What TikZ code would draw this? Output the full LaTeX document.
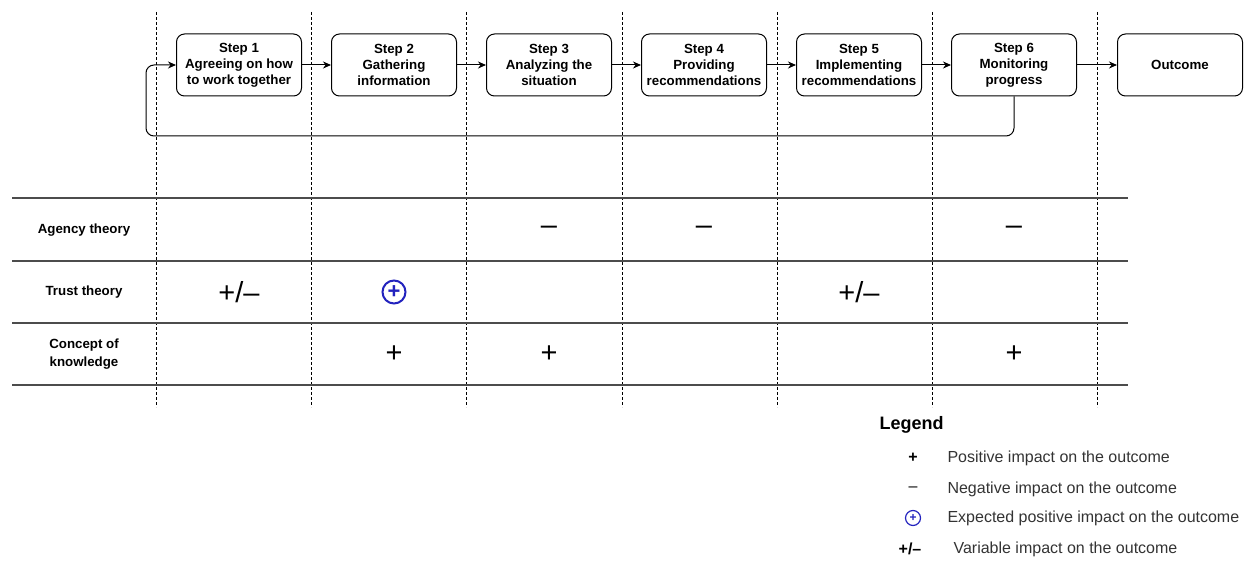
\documentclass[tikz,border=0pt]{standalone}
\usepackage{fontspec}
\setmainfont{Liberation Sans}
\usetikzlibrary{arrows.meta}
\definecolor{expblue}{RGB}{35,35,190}
\begin{document}
\begin{tikzpicture}[x=1pt,y=-1pt,
    stepbox/.style={draw,line width=1pt,rounded corners=8pt,minimum width=125pt,
      minimum height=62pt,align=center,inner sep=2pt,
      font=\fontsize{13.3}{16}\selectfont\bfseries},
    flow/.style={line width=1pt,-{Stealth[length=8pt,width=7pt]}},
    column/.style={dash pattern=on 3pt off 2pt,line width=0.7pt},
    rule/.style={line width=1.3pt,black!70},
    theory/.style={align=center,font=\fontsize{13.3}{17.5}\selectfont\bfseries},
    impact/.style={font=\fontsize{29}{29}\selectfont},
    expected/.style={circle,draw=expblue,line width=2pt,text=expblue,inner sep=0pt,
      minimum size=23pt,font=\fontsize{22}{22}\selectfont\bfseries},
    legtext/.style={anchor=west,font=\fontsize{16}{18}\selectfont,text=black!80}]
  \useasboundingbox (0,0) rectangle (1248,561);
  % columns
  \foreach \x in {156,311,466,622,777,932,1097}
    \draw[column] (\x,12) -- (\x,407);
  % rows
  \foreach \y in {198,261,323,385}
    \draw[rule] (12,\y) -- (1128,\y);
  % steps
  \draw
    (239,65) node[stepbox] (s1){Step 1\\Agreeing on how\\to work together}
    (394,65) node[stepbox] (s2){Step 2\\Gathering\\information}
    (549,65) node[stepbox] (s3){Step 3\\Analyzing the\\situation}
    (704,65) node[stepbox] (s4){Step 4\\Providing\\recommendations}
    (859,65) node[stepbox] (s5){Step 5\\Implementing\\recommendations}
    (1014,65) node[stepbox] (s6){Step 6\\Monitoring\\progress}
    (1180,65) node[stepbox] (out){Outcome};
  \begin{scope}[flow]
    \draw (s1) to (s2);
    \draw (s2) to (s3);
    \draw (s3) to (s4);
    \draw (s4) to (s5);
    \draw (s5) to (s6);
    \draw (s6) to (out);
  \end{scope}
  \coordinate (back) at (146,136);
  \draw[flow,rounded corners=8pt] (s6.south) |- (back) |- (s1.west);
  % theories
  \draw
    (84,230) node[theory] (agency){Agency theory}
    (84,292) node[theory] (trust){Trust theory}
    (84,354) node[theory] (knowledge){Concept of\\knowledge};
  % impacts
  \draw
    (549,230) node[impact] (a3){–}
    (704,230) node[impact] (a4){–}
    (1014,230) node[impact] (a6){–}
    (239,292) node[impact] (t1){+/–}
    (394,292) node[expected] (t2){+}
    (859,292) node[impact] (t5){+/–}
    (394,354) node[impact] (k2){+}
    (549,354) node[impact] (k3){+}
    (1014,354) node[impact] (k6){+};
  % legend
  \node[anchor=west,font=\fontsize{18}{20}\selectfont\bfseries] (legend) at (876,425) {Legend};
  \draw
    (913,458) node[font=\fontsize{16}{16}\selectfont\bfseries] (lplus){+}
    (913,489) node[font=\fontsize{16}{16}\selectfont] (lminus){–}
    (913,518) node[expected,minimum size=15pt,line width=1.2pt,font=\fontsize{12}{12}\selectfont\bfseries] (lexp){+}
    (910,549) node[font=\fontsize{16}{16}\selectfont\bfseries] (lvar){+/–};
  \node[legtext] (tplus) at (944,458) {Positive impact on the outcome};
  \node[legtext] (tminus) at (944,489) {Negative impact on the outcome};
  \node[legtext] (texp) at (944,518) {Expected positive impact on the outcome};
  \node[legtext] (tvar) at (950,549) {Variable impact on the outcome};
\end{tikzpicture}
\end{document}
